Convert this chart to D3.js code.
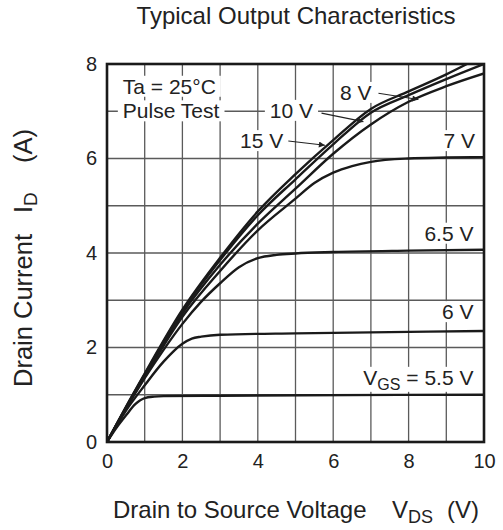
<!DOCTYPE html>
<html>
<head>
<meta charset="utf-8">
<script src="https://cdn.jsdelivr.net/npm/d3@7"></script>
<style>
  html, body { margin: 0; padding: 0; background: #fff; }
  text { font-family: "Liberation Sans", Arial, Helvetica, sans-serif; fill: #222; }
</style>
</head>
<body>
<svg id="chart" width="503" height="530"></svg>
<script>
// ---- data ----
const xTicks = [0, 2, 4, 6, 8, 10];
const yTicks = [0, 2, 4, 6, 8];
const xGrid = [1, 2, 3, 4, 5, 6, 7, 8, 9];
const yGrid = [1, 2, 3, 4, 5, 6, 7];

const vds15 = [0, 0.5, 1, 2, 3, 4, 5, 6, 7, 8, 9, 9.6];
const id15  = [0, 0.74, 1.45, 2.8, 3.9, 4.88, 5.67, 6.39, 7.05, 7.42, 7.78, 8.02];
const vds10 = [0, 0.5, 1, 2, 3, 4, 5, 6, 7, 8, 9, 10];
const id10  = [0, 0.73, 1.43, 2.77, 3.85, 4.8, 5.56, 6.3, 6.97, 7.34, 7.68, 8.0];
const vds8  = [0, 0.5, 1, 2, 3, 4, 5, 6, 7, 8, 9, 10];
const id8   = [0, 0.72, 1.41, 2.72, 3.75, 4.62, 5.36, 6.1, 6.72, 7.2, 7.53, 7.8];
const vds7  = [0, 0.5, 1, 2, 3, 4, 5, 5.5, 6, 6.5, 7, 8, 9, 10];
const id7   = [0, 0.71, 1.38, 2.65, 3.62, 4.48, 5.15, 5.48, 5.7, 5.84, 5.93, 6.0, 6.02, 6.03];
const vds65 = [0, 0.5, 1, 1.5, 2, 2.5, 3, 3.5, 4, 4.5, 5, 6, 8, 10];
const id65  = [0, 0.7, 1.35, 1.95, 2.5, 2.97, 3.36, 3.7, 3.89, 3.96, 3.99, 4.02, 4.05, 4.07];
const vds6  = [0, 0.5, 1, 1.5, 2, 2.25, 2.5, 3, 5, 7, 10];
const id6   = [0, 0.66, 1.2, 1.7, 2.08, 2.19, 2.23, 2.27, 2.3, 2.32, 2.35];
const vds55 = [0, 0.25, 0.5, 0.75, 1, 1.25, 1.5, 3, 10];
const id55  = [0, 0.3, 0.56, 0.8, 0.93, 0.96, 0.97, 0.98, 1.0];

const seriesNames = ["15 V", "10 V", "8 V", "7 V", "6.5 V", "6 V", "5.5 V"];
const seriesX = [vds15, vds10, vds8, vds7, vds65, vds6, vds55];
const seriesY = [id15, id10, id8, id7, id65, id6, id55];

// annotation labels: text, x (V), y (A), anchor
const labelText   = ["Ta = 25°C", "Pulse Test", "10 V", "8 V", "15 V", "7 V", "6.5 V", "6 V"];
const labelX      = [0.42, 0.42, 4.32, 6.18, 3.53, 9.76, 9.72, 9.72];
const labelY      = [7.37, 6.85, 6.86, 7.24, 6.22, 6.22, 4.26, 2.6];
const labelAnchor = ["start", "start", "start", "start", "start", "end", "end", "end"];
// arrows: from (x1,y1) to (x2,y2) in data units
const arrowX1 = [7.2, 5.69, 4.81];
const arrowY1 = [7.38, 6.96, 6.37];
const arrowX2 = [8.26, 6.8, 5.78];
const arrowY2 = [7.25, 6.78, 6.28];
// VGS label
const vgsLabelX = 9.72, vgsLabelY = 1.21;

// ---- layout ----
const svg = d3.select("#chart");
const pLeft = 107, pRight = 484, pTop = 64, pBottom = 442;
const x = d3.scaleLinear().domain([0, 10]).range([pLeft, pRight]);
const y = d3.scaleLinear().domain([0, 8]).range([pBottom, pTop]);

svg.append("rect").attr("width", 503).attr("height", 530).attr("fill", "#fff");

const defs = svg.append("defs");
defs.append("clipPath").attr("id", "plotclip")
  .append("rect").attr("x", pLeft).attr("y", pTop).attr("width", pRight - pLeft).attr("height", pBottom - pTop);

// grid
const grid = svg.append("g").attr("stroke", "#5a5a5a").attr("stroke-width", 1.3);
grid.selectAll("line.v").data(xGrid).join("line").attr("class", "v")
  .attr("x1", d => x(d)).attr("x2", d => x(d)).attr("y1", pTop).attr("y2", pBottom);
grid.selectAll("line.h").data(yGrid).join("line").attr("class", "h")
  .attr("y1", d => y(d)).attr("y2", d => y(d)).attr("x1", pLeft).attr("x2", pRight);

// label layer (white boxes under text)
const bgLayer = svg.append("g");
const curveLayer = svg.append("g").attr("clip-path", "url(#plotclip)");
const textLayer = svg.append("g");

// curves
const line = d3.line().x(d => x(d[0])).y(d => y(d[1])).curve(d3.curveMonotoneX);
seriesNames.forEach((name, i) => {
  const pts = seriesX[i].map((v, j) => [v, seriesY[i][j]]);
  curveLayer.append("path").datum(pts)
    .attr("d", line).attr("fill", "none").attr("stroke", "#1a1a1a")
    .attr("stroke-width", 2.4).attr("stroke-linejoin", "round");
});

// annotation labels
const fontAnn = 21;
labelText.forEach((t, i) => {
  textLayer.append("text")
    .attr("x", x(labelX[i])).attr("y", y(labelY[i]))
    .attr("text-anchor", labelAnchor[i]).attr("font-size", fontAnn)
    .text(t);
});
const vgs = textLayer.append("text")
  .attr("x", x(vgsLabelX)).attr("y", y(vgsLabelY))
  .attr("text-anchor", "end").attr("font-size", fontAnn);
vgs.append("tspan").text("V");
vgs.append("tspan").attr("font-size", 16).attr("dy", 5).text("GS");
vgs.append("tspan").attr("dy", -5).text(" = 5.5 V");

// white boxes behind the labels
textLayer.selectAll("text").each(function() {
  const b = this.getBBox();
  bgLayer.append("rect")
    .attr("x", b.x - 5).attr("y", b.y + 1)
    .attr("width", b.width + 10).attr("height", b.height - 2)
    .attr("fill", "#fff");
});

// arrows
defs.append("marker").attr("id", "ah").attr("viewBox", "0 0 10 10")
  .attr("refX", 10).attr("refY", 5).attr("markerWidth", 10).attr("markerHeight", 6)
  .attr("markerUnits", "userSpaceOnUse").attr("orient", "auto")
  .append("path").attr("d", "M0,0 L10,5 L0,10 z").attr("fill", "#222");
arrowX1.forEach((v, i) => {
  textLayer.append("line")
    .attr("x1", x(v)).attr("y1", y(arrowY1[i]))
    .attr("x2", x(arrowX2[i])).attr("y2", y(arrowY2[i]))
    .attr("stroke", "#222").attr("stroke-width", 1.1)
    .attr("marker-end", "url(#ah)");
});

// border
svg.append("rect").attr("x", pLeft).attr("y", pTop)
  .attr("width", pRight - pLeft).attr("height", pBottom - pTop)
  .attr("fill", "none").attr("stroke", "#1a1a1a").attr("stroke-width", 2.6);

// tick labels
const xAxis = d3.axisBottom(x).tickValues(xTicks).tickSize(0).tickPadding(12);
const gx = svg.append("g").attr("transform", `translate(0,${pBottom})`).call(xAxis);
gx.select(".domain").remove();
gx.selectAll("text").attr("font-size", 20).attr("fill", "#222")
  .attr("font-family", "Liberation Sans, Arial, sans-serif");

const yAxis = d3.axisLeft(y).tickValues(yTicks).tickSize(0).tickPadding(10);
const gy = svg.append("g").attr("transform", `translate(${pLeft},0)`).call(yAxis);
gy.select(".domain").remove();
gy.selectAll("text").attr("font-size", 20).attr("fill", "#222")
  .attr("font-family", "Liberation Sans, Arial, sans-serif");

// title
svg.append("text").attr("x", 296).attr("y", 24).attr("text-anchor", "middle")
  .attr("font-size", 24).text("Typical Output Characteristics");

// x label
const xl = svg.append("text").attr("x", 113).attr("y", 518).attr("font-size", 24);
xl.append("tspan").text("Drain to Source Voltage");
xl.append("tspan").attr("x", 392).text("V");
xl.append("tspan").attr("font-size", 18).attr("dy", 5).text("DS");
xl.append("tspan").attr("x", 447).attr("dy", -5).text("(V)");

// y label
const yl = svg.append("text").attr("transform", "translate(32,387) rotate(-90)").attr("font-size", 25.5);
yl.append("tspan").attr("x", 0).text("Drain Current");
yl.append("tspan").attr("x", 174).text("I");
yl.append("tspan").attr("font-size", 19).attr("dy", 5).text("D");
yl.append("tspan").attr("x", 224).attr("dy", -5).text("(A)");
</script>
</body>
</html>
